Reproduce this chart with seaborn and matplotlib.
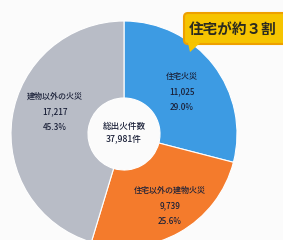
import matplotlib
matplotlib.use("Agg")
import matplotlib.pyplot as plt
import seaborn as sns
from matplotlib.patches import FancyBboxPatch, Polygon

# data
categories = ["住宅火災", "住宅以外の建物火災", "建物以外の火災"]
counts = [11025, 9739, 17217]
pct_labels = ["29.0%", "25.6%", "45.3%"]
count_labels = ["11,025", "9,739", "17,217"]
total_label = "37,981件"
center_title = "総出火件数"
callout = "住宅が約３割"

sns.set_theme(style="white")
plt.rcParams['font.family'] = ['Noto Sans CJK JP', 'DejaVu Sans']

colors = ["#3d9be3", "#f47b2c", "#b8bcc6"]

fig = plt.figure(figsize=(2.83, 2.40), dpi=100)
fig.patch.set_facecolor("#fbfbfb")
ax = fig.add_axes([0, 0, 1, 1])

cx, cy, R, r_in = 124, 106, 113, 36
wedges, _ = ax.pie(counts, colors=colors, startangle=90, counterclock=False,
                   center=(cx, cy), radius=R, frame=True,
                   wedgeprops=dict(width=R - r_in, edgecolor="white", linewidth=0.8))
ax.set_xlim(0, 283)
ax.set_ylim(0, 240)
ax.axis("off")

txt = "#1a2038"
fs = 5.8
label_pos = [(182, 148), (170, 34), (55, 128)]
for (x, y), cat, c, p in zip(label_pos, categories, count_labels, pct_labels):
    ax.text(x, y, f"{cat}\n{c}\n{p}", ha="center", va="center", fontsize=fs,
            color=txt, linespacing=1.9, fontweight="medium")

ax.text(cx, cy + 1, f"{center_title}\n{total_label}", ha="center", va="center",
        fontsize=6.2, color=txt, linespacing=1.45, fontweight="medium")

# callout
box = FancyBboxPatch((184, 196), 110, 31, boxstyle="round,pad=0,rounding_size=4",
                     facecolor="#f6c400", edgecolor="#eea000", linewidth=1.5, zorder=5)
ax.add_patch(box)
ax.add_patch(Polygon([[188, 197], [200, 197], [190, 188]], closed=True,
                     facecolor="#f6c400", edgecolor="none", zorder=6))
ax.text(233, 211.5, callout, ha="center", va="center", fontsize=10.5,
        fontweight="bold", color="#2a2a20", zorder=7)

fig.savefig("out.png", dpi=100, facecolor=fig.get_facecolor())
